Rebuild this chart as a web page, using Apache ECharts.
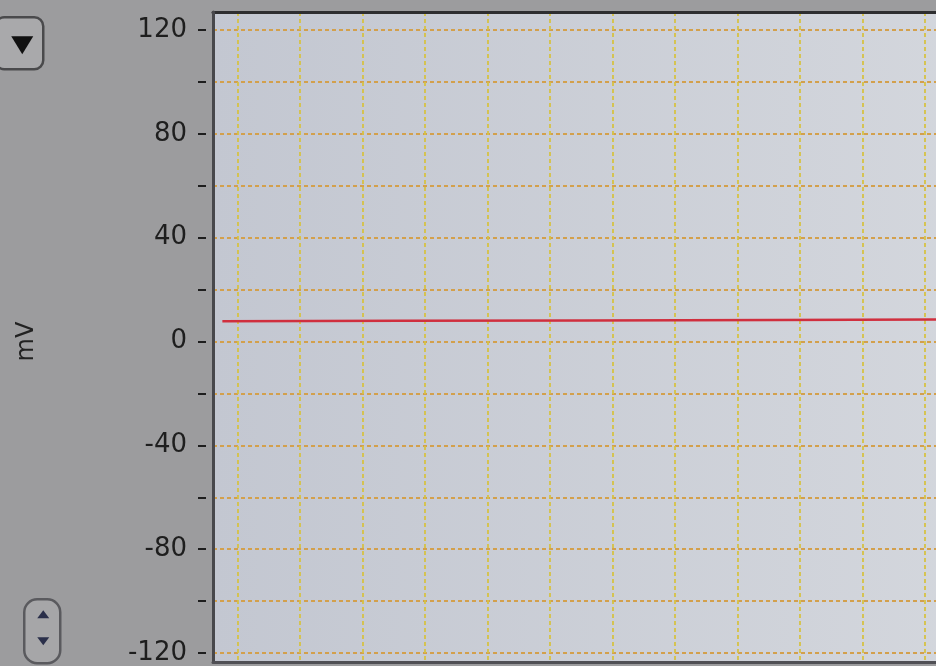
<!DOCTYPE html>
<html>
<head>
<meta charset="utf-8">
<script src="https://cdn.jsdelivr.net/npm/echarts@6/dist/echarts.min.js"></script>
<style>
  html, body { margin: 0; padding: 0; background: #9d9d9f; }
  #scope { width: 936px; height: 666px; }
</style>
</head>
<body>
<div id="scope"></div>
<script>
var chart = echarts.init(document.getElementById('scope'));

// y axis (mV): labelled ticks, every 20 gets a tick + grid line
const mvLabels = [-120, -80, -40, 0, 40, 80, 120];
const mvMin = -120;
const mvMax = 120;
const mvStep = 20;

// trace: time (grid divisions) vs mV, flat line near 8 mV
const traceTime = [0.15, 3, 6, 9, 12.39];
const traceMv = [7.8, 8.0, 8.1, 8.3, 8.5];

// horizontal divisions: 12.39 divisions visible, counted from the right edge
const divCount = 12.392;

const gridLeft = 213;
const gridRight = -51.5;

const traceData = traceTime.map(function (t, i) {
  return [t, traceMv[i]];
});

const options = {
  backgroundColor: '#9c9c9e',
  animation: false,
  grid: [{
    // frame: background, border, vertical divisions
    left: gridLeft,
    right: gridRight,
    top: 12,
    bottom: 4,
    outerBoundsMode: 'none',
    show: true,
    borderWidth: 0,
    backgroundColor: new echarts.graphic.LinearGradient(0, 0, 1, 0, [
      { offset: 0, color: '#c3c7d1' },
      { offset: 1, color: '#d4d7dd' }
    ])
  }, {
    // value area: -120 .. 120 mV
    left: gridLeft,
    right: gridRight,
    top: 30,
    bottom: 13,
    outerBoundsMode: 'none'
  }],
  xAxis: [{
    gridIndex: 0,
    type: 'value',
    position: 'top',
    inverse: true,
    min: 0,
    max: divCount,
    interval: 1,
    z: 2,
    axisLine: { show: true, onZero: false, lineStyle: { color: '#2e2e30', width: 3 } },
    axisTick: { show: false },
    axisLabel: { show: false },
    splitLine: {
      show: true,
      lineStyle: { color: '#d6c244', width: 1.8, type: [4, 3] }
    }
  }, {
    gridIndex: 0,
    type: 'value',
    position: 'bottom',
    min: 0,
    max: 1,
    z: 6,
    axisLine: { show: true, onZero: false, lineStyle: { color: '#505055', width: 3 } },
    axisTick: { show: false },
    axisLabel: { show: false },
    splitLine: { show: false }
  }, {
    gridIndex: 1,
    type: 'value',
    min: 0,
    max: divCount,
    show: false
  }],
  yAxis: [{
    gridIndex: 0,
    type: 'value',
    min: 0,
    max: 1,
    z: 6,
    axisLine: { show: true, onZero: false, lineStyle: { color: '#48484c', width: 3 } },
    axisTick: { show: false },
    axisLabel: { show: false },
    splitLine: { show: false }
  }, {
    gridIndex: 1,
    type: 'value',
    min: mvMin,
    max: mvMax,
    interval: mvStep,
    offset: 7,
    name: 'mV',
    nameLocation: 'middle',
    nameGap: 167,
    nameTextStyle: {
      fontFamily: 'DejaVu Sans',
      fontSize: 24,
      color: '#222'
    },
    axisLine: { show: false, onZero: false },
    axisTick: {
      show: true,
      length: 8,
      lineStyle: { color: '#1e1e1e', width: 2 }
    },
    axisLabel: {
      margin: 19,
      fontFamily: 'DejaVu Sans',
      fontSize: 26,
      color: '#1e1e1e',
      formatter: function (v) {
        return mvLabels.indexOf(v) >= 0 ? String(v) : '';
      }
    },
    splitLine: {
      show: true,
      lineStyle: { color: '#d3a04c', width: 1.8, type: [4, 3] }
    }
  }],
  graphic: [{
    // dropdown button, top left
    type: 'group',
    left: -6,
    top: 16,
    children: [{
      type: 'rect',
      shape: { x: 0, y: 0, width: 48, height: 52, r: 9 },
      style: { fill: '#a9a9ab', stroke: '#4a4a4c', lineWidth: 2.5 }
    }, {
      type: 'polygon',
      shape: { points: [[16, 19], [38, 19], [27, 37]] },
      style: { fill: '#111' }
    }]
  }, {
    // spinner, bottom left
    type: 'group',
    left: 23,
    top: 598,
    children: [{
      type: 'rect',
      shape: { x: 0, y: 0, width: 36, height: 64, r: 13 },
      style: { fill: '#a6a6a8', stroke: '#5a5a5e', lineWidth: 2.5 }
    }, {
      type: 'polygon',
      shape: { points: [[13, 19], [25, 19], [19, 11]] },
      style: { fill: '#2a2f4a' }
    }, {
      type: 'polygon',
      shape: { points: [[13, 38], [25, 38], [19, 46]] },
      style: { fill: '#2a2f4a' }
    }]
  }],
  series: [{
    name: 'trace',
    type: 'line',
    xAxisIndex: 2,
    yAxisIndex: 1,
    data: traceData,
    symbol: 'none',
    z: 4,
    lineStyle: { color: '#d02f3e', width: 2.5 }
  }]
};
chart.setOption(options);
</script>
</body>
</html>
